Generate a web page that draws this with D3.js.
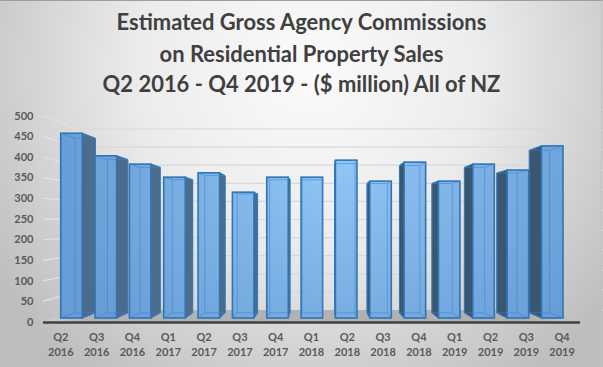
<!DOCTYPE html>
<html><head><meta charset="utf-8">
<script src="https://cdn.jsdelivr.net/npm/d3@7"></script>
<style>html,body{margin:0;padding:0;background:#fff;} svg{display:block}</style>
</head><body>
<svg id="chart" width="603" height="367"></svg>
<script>
// ---- data ----
const quarters = ["Q2","Q3","Q4","Q1","Q2","Q3","Q4","Q1","Q2","Q3","Q4","Q1","Q2","Q3","Q4"];
const years = ["2016","2016","2016","2017","2017","2017","2017","2018","2018","2018","2018","2019","2019","2019","2019"];
const commissions = [467,410,389,356,367,318,356,356,399,346,394,346,389,374,435];
const yTicks = [0,50,100,150,200,250,300,350,400,450,500];
const titleLines = ["Estimated Gross Agency Commissions","on Residential Property Sales","Q2 2016 - Q4 2019 - ($ million) All of NZ"];

// ---- setup ----
const W = 603, H = 367;
const svg = d3.select("#chart");
const defs = svg.append("defs");
const FONT = "Lato, 'Open Sans', 'DejaVu Sans', sans-serif";

const bg = defs.append("radialGradient").attr("id","bg").attr("gradientUnits","userSpaceOnUse")
  .attr("cx",310).attr("cy",70).attr("r",380);
bg.append("stop").attr("offset",0).attr("stop-color","#fbfbfb");
bg.append("stop").attr("offset",0.45).attr("stop-color","#ececec");
bg.append("stop").attr("offset",1).attr("stop-color","#bdbdbd");

const barGrad = defs.append("radialGradient").attr("id","barg").attr("gradientUnits","userSpaceOnUse")
  .attr("cx",335).attr("cy",150).attr("r",280);
barGrad.append("stop").attr("offset",0).attr("stop-color","#93c7f6");
barGrad.append("stop").attr("offset",1).attr("stop-color","#679cd5");

const floorGrad = defs.append("linearGradient").attr("id","floorg");
floorGrad.append("stop").attr("offset",0).attr("stop-color","#d2d2d2");
floorGrad.append("stop").attr("offset",0.08).attr("stop-color","#b3b3b3");
floorGrad.append("stop").attr("offset",0.9).attr("stop-color","#b0b0b0");
floorGrad.append("stop").attr("offset",1).attr("stop-color","#c6c6c6");

svg.append("rect").attr("width",W).attr("height",H).attr("fill","url(#bg)");
svg.append("line").attr("x1",0).attr("x2",W).attr("y1",0.5).attr("y2",0.5).attr("stroke","#9e9e9e");
svg.append("line").attr("x1",601.5).attr("x2",601.5).attr("y1",0).attr("y2",H).attr("stroke","#c2c2c2");

// ---- perspective ----
const VX = 320, VY = 224;
const S_FLOOR_FRONT = 1.0426, S_BAR_BACK = 0.945, S_WALL = 0.915;
const proj = (X, Y, s) => [VX + (X - VX) * s, VY + (Y - VY) * s];

const n = commissions.length;
const XL = 54.3, XR = 569.4;
const x = d3.scaleBand().domain(d3.range(n)).range([XL, XR]);
const y = d3.scaleLinear().domain([0, 500]).range([318, 120.2]);
const bw = x.bandwidth() * 0.627;

// right edge ticks
d3.range(11).forEach(i => {
  svg.append("line").attr("x1",602).attr("x2",603).attr("y1",110+i*20).attr("y2",110+i*20).attr("stroke","#e6e6e6");
});

// gridlines
const grid = svg.append("g");
yTicks.filter(v => v > 0).forEach(v => {
  const a = proj(XL, y(v), S_FLOOR_FRONT), b = proj(XL, y(v), S_WALL), c = proj(XR, y(v), S_WALL);
  grid.append("line").attr("x1",a[0]).attr("y1",a[1]).attr("x2",b[0]).attr("y2",b[1])
    .attr("stroke","#e3e3e3").attr("stroke-width",1.2);
  grid.append("line").attr("x1",b[0]).attr("y1",b[1]).attr("x2",c[0]).attr("y2",c[1])
    .attr("stroke","#d8d8d8").attr("stroke-width",1.2);
});

// floor
const fp = [proj(XL, y(0), S_FLOOR_FRONT), proj(XR, y(0), S_FLOOR_FRONT), proj(XR, y(0), S_WALL), proj(XL, y(0), S_WALL)];
svg.append("polygon").attr("points", fp.map(p => p.join(",")).join(" ")).attr("fill","url(#floorg)");
svg.append("line").attr("x1",fp[0][0]).attr("y1",fp[0][1]+0.5).attr("x2",fp[1][0]).attr("y2",fp[1][1]+0.5)
  .attr("stroke","#404040").attr("stroke-width",2.4);

// bars
const order = d3.range(n).sort((a, b) =>
  Math.abs(x(b) + x.bandwidth()/2 - VX) - Math.abs(x(a) + x.bandwidth()/2 - VX));
const barsG = svg.append("g");
const pts = arr => arr.map(p => p.join(",")).join(" ");
order.forEach(i => {
  const g = barsG.append("g");
  const l = x(i) + (x.bandwidth() - bw) / 2, r = l + bw;
  const yt = y(commissions[i]), yb = y(0);
  const kb = S_BAR_BACK;
  if (r < VX) {
    g.append("polygon").attr("points", pts([proj(r,yt,1), proj(r,yt,kb), proj(r,yb,kb), proj(r,yb,1)]))
      .attr("fill","#4d6b8b").attr("stroke","#2f6aa8").attr("stroke-width",1);
  } else if (l > VX) {
    g.append("polygon").attr("points", pts([proj(l,yt,1), proj(l,yt,kb), proj(l,yb,kb), proj(l,yb,1)]))
      .attr("fill","#3c5670").attr("stroke","#2f6aa8").attr("stroke-width",1);
  }
  g.append("rect").attr("x", l).attr("y", yt).attr("width", bw).attr("height", yb - yt)
    .attr("fill","url(#barg)").attr("stroke","#2e75b6").attr("stroke-width",1.6);
  const bl = proj(l,yt,kb), br = proj(r,yt,kb), bbl = proj(l,yb,kb), bbr = proj(r,yb,kb);
  const inner = d3.path();
  inner.moveTo(bl[0],bl[1]); inner.lineTo(br[0],br[1]); inner.lineTo(bbr[0],bbr[1]); inner.lineTo(bbl[0],bbl[1]); inner.closePath();
  inner.moveTo(l,yb); inner.lineTo(bbl[0],bbl[1]);
  inner.moveTo(r,yb); inner.lineTo(bbr[0],bbr[1]);
  inner.moveTo(l,yt); inner.lineTo(bl[0],bl[1]);
  inner.moveTo(r,yt); inner.lineTo(br[0],br[1]);
  g.append("path").attr("d", inner.toString()).attr("fill","none")
    .attr("stroke","#3b84cc").attr("stroke-opacity",0.55).attr("stroke-width",1);
});

// y axis labels
svg.append("g").selectAll("text").data(yTicks).join("text")
  .attr("x", 33.5).attr("y", v => proj(XL, y(v), S_FLOOR_FRONT)[1])
  .attr("dy","0.35em").attr("text-anchor","end")
  .attr("font-family", FONT).attr("font-weight","bold").attr("font-size","11px").attr("fill","#595959")
  .text(d => d);

// x axis labels
const xl = svg.append("g");
d3.range(n).forEach(i => {
  const cxp = proj(x(i) + x.bandwidth()/2, y(0), S_FLOOR_FRONT)[0];
  const t = xl.append("text").attr("x", cxp).attr("text-anchor","middle")
    .attr("font-family", FONT).attr("font-weight","bold").attr("font-size","11px").attr("fill","#595959");
  t.append("tspan").attr("x", cxp).attr("y", 337).attr("dy","0.35em").text(quarters[i]);
  t.append("tspan").attr("x", cxp).attr("y", 352).attr("dy","0.35em").text(years[i]);
});

// title
const tg = svg.append("g");
const baselines = [30, 61.7, 92.3];
const titles = titleLines.map((s, i) => tg.append("text").attr("x", 301.5).attr("y", baselines[i])
  .attr("text-anchor","middle").attr("font-family", FONT).attr("font-weight","bold")
  .attr("font-size","20px").attr("fill","#404040").text(s));
const w0 = titles[0].node().getComputedTextLength();
const fs = 20 * 370 / w0;
titles.forEach(t => t.attr("font-size", fs + "px"));
</script>
</body></html>
